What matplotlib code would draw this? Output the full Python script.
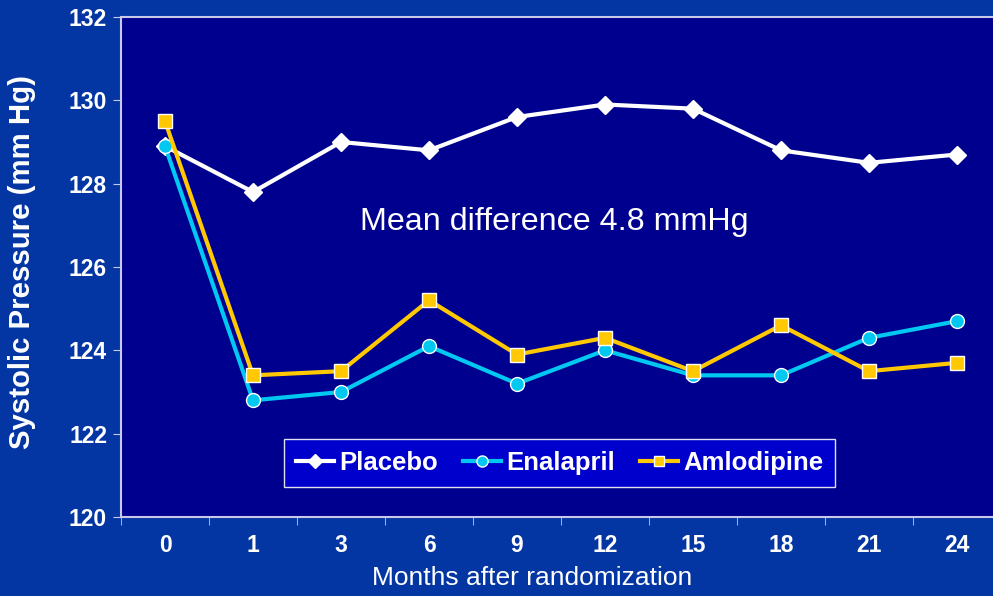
import matplotlib.pyplot as plt
import numpy as np

# Datos
meses = ['0', '1', '3', '6', '9', '12', '15', '18', '21', '24']
placebo = [128.9, 127.8, 129.0, 128.8, 129.6, 129.9, 129.8, 128.8, 128.5, 128.7]
enalapril = [128.9, 122.8, 123.0, 124.1, 123.2, 124.0, 123.4, 123.4, 124.3, 124.7]
amlodipine = [129.5, 123.4, 123.5, 125.2, 123.9, 124.3, 123.5, 124.6, 123.5, 123.7]

plt.rcParams['font.family'] = ['Liberation Sans', 'DejaVu Sans']

fondo = '#0336A3'
fondo_ejes = '#00008F'
borde = '#C8C8E8'

fig = plt.figure(figsize=(9.93, 5.96), dpi=100, facecolor=fondo)
ax = fig.add_axes([121/993, 79/596, 880/993, 500/596])
ax.set_facecolor(fondo_ejes)

x_pos = np.arange(len(meses))
ax.plot(x_pos, placebo, color='white', linewidth=3, marker='D', markersize=9,
        markerfacecolor='white', markeredgecolor='white', label='Placebo', zorder=3)
ax.plot(x_pos, enalapril, color='#00C8F0', linewidth=3, marker='o', markersize=10,
        markerfacecolor='#00C8F0', markeredgecolor='white', markeredgewidth=1,
        label='Enalapril', zorder=4)
ax.plot(x_pos, amlodipine, color='#FFC800', linewidth=3, marker='s', markersize=9.5,
        markerfacecolor='#FFC800', markeredgecolor='white', markeredgewidth=1,
        label='Amlodipine', zorder=5)

ax.set_xlim(-0.5, len(meses) - 0.5)
ax.set_ylim(120, 132)
ax.set_yticks(np.arange(120, 133, 2))
ax.set_xticks(x_pos)
ax.set_xticklabels(meses)
ax.set_xticks(np.arange(-0.5, len(meses), 1), minor=True)
ax.tick_params(axis='x', which='major', length=0, pad=12)
ax.tick_params(axis='x', which='minor', length=6, color=borde, direction='out')
ax.tick_params(axis='y', length=6, color=borde, direction='out', pad=4)
for lab in ax.get_xticklabels() + ax.get_yticklabels():
    lab.set_color('white')
    lab.set_fontsize(16.5)
    lab.set_fontweight('bold')

for lado in ['left', 'bottom', 'top', 'right']:
    ax.spines[lado].set_color(borde)
    ax.spines[lado].set_linewidth(1.5)

# Etiquetas de los ejes (posicion segun la imagen original)
fig.text(532/993, 1 - 578/596, 'Months after randomization', fontsize=19,
         color='white', ha='center', va='center')
fig.text(22/993, 1 - 262/596, 'Systolic Pressure (mm Hg)', fontsize=21.2,
         color='white', fontweight='bold', rotation=90, ha='center', va='center')

ax.text(4.42, 127.08, 'Mean difference 4.8 mmHg', fontsize=23.2, color='white',
        ha='center', va='center')

leg = ax.legend(loc='center', bbox_to_anchor=(0.4985, 0.108), ncol=3, frameon=True,
                fancybox=False, facecolor='#0000CC', edgecolor='#E0E0F0',
                framealpha=1, handlelength=1.5, handletextpad=0.2, columnspacing=0.95,
                borderpad=0.45, markerscale=0.8,
                prop={'weight': 'bold', 'size': 18.5})
for t in leg.get_texts():
    t.set_color('white')

fig.savefig('out.png', dpi=100, facecolor=fondo)
